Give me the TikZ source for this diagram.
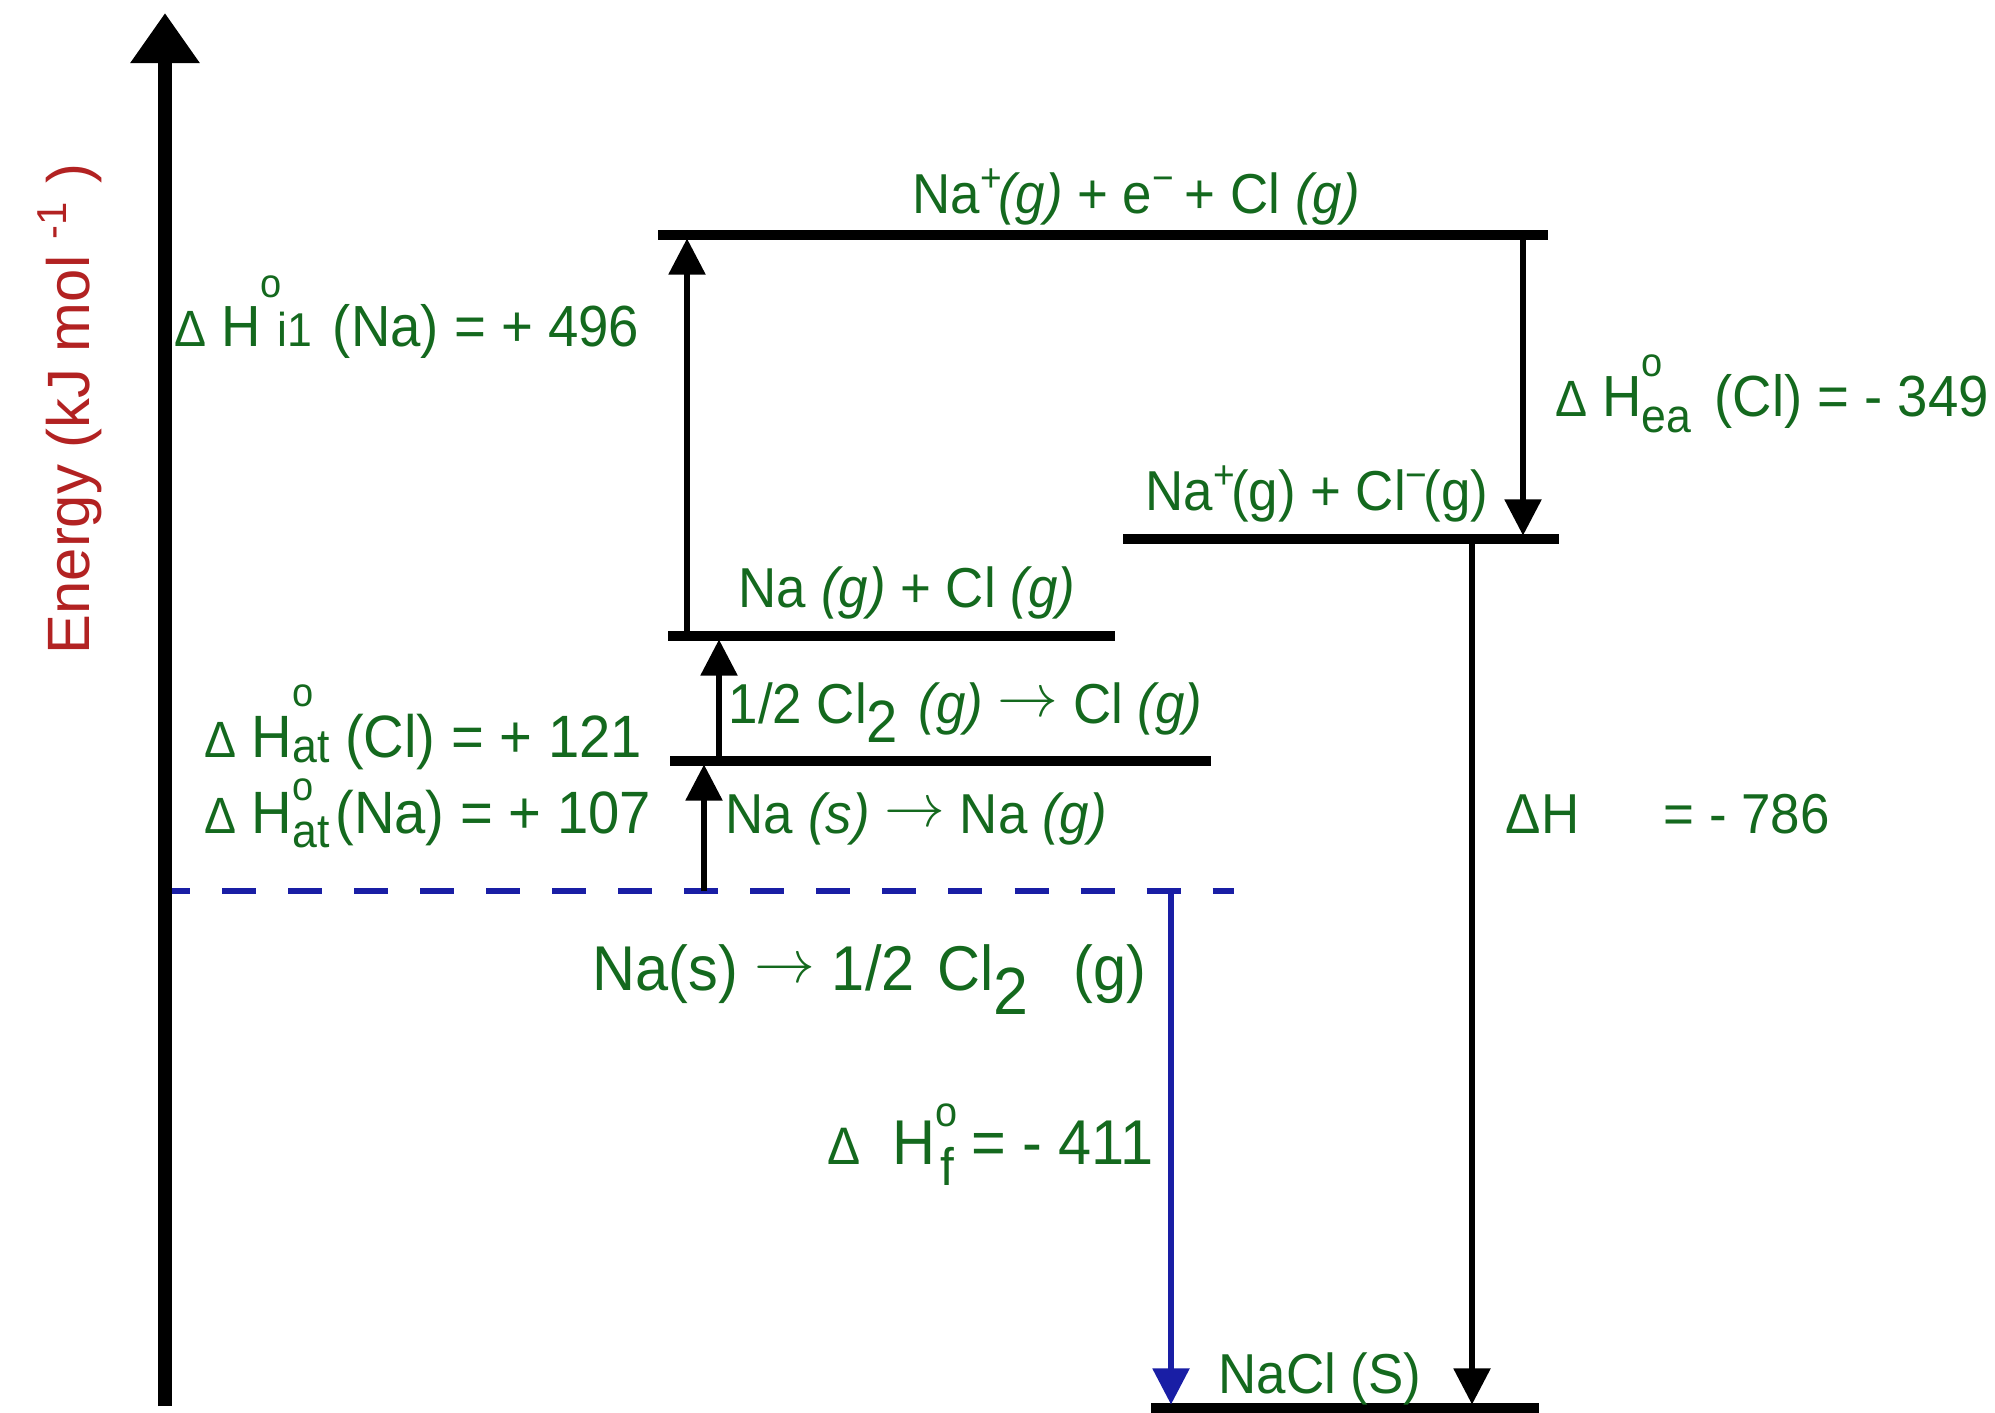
\documentclass[tikz,border=0pt]{standalone}
\usepackage{fontspec}
\setmainfont[FakeStretch=0.94]{Liberation Sans}
\newfontfamily\axisfont{Liberation Sans}
\usetikzlibrary{arrows.meta}
\definecolor{ChemGreen}{RGB}{20,105,30}
\definecolor{AxisRed}{RGB}{178,34,34}
\definecolor{FormBlue}{RGB}{25,30,165}
\newcommand{\fs}[1]{\fontsize{#1}{#1}\selectfont}
% delta H with a raised "o" and a lowered index
\newcommand{\enth}[3]{{\fs{14.5}Δ}\hspace{0.25em}H\rlap{\raisebox{#2}{\fs{11.5}o}}\raisebox{-#3}{\fs{13.5}#1}}
\newcommand{\yields}{\raisebox{0.12em}{$\rightarrow$}}
\tikzset{
  lvl/.style={line width=2.6pt},
  jump/.style={line width=1.5pt, shorten >=1pt, -{Triangle[length=3.6mm,width=3.6mm]}},
  lbl/.style={text=ChemGreen, font=\fs{16}, inner sep=0pt, anchor=base west}
}

\begin{document}
\begin{tikzpicture}[x=0.01cm, y=-0.01cm]
  \useasboundingbox (0,0) rectangle (1995,1413);
  % energy axis
  \coordinate (ax0) at (165,1406);
  \coordinate (ax1) at (165,13);
  \draw[line width=3.7pt, -{Triangle[length=5mm,width=6.6mm]}] (ax0) -- (ax1);
  \node[rotate=90, anchor=base west, text=AxisRed, inner sep=0pt,
    font=\axisfont\fs{17}] (elab) at (89,655) {Energy (kJ mol \textsuperscript{-1} )};

  % levels
  \coordinate (top-l) at (658,235);  \coordinate (top-r) at (1548,235);
  \coordinate (ion-l) at (1123,539); \coordinate (ion-r) at (1559,539);
  \coordinate (atm-l) at (668,636);  \coordinate (atm-r) at (1115,636);
  \coordinate (half-l) at (670,761); \coordinate (half-r) at (1211,761);
  \coordinate (dash-l) at (172,891); \coordinate (dash-r) at (1234,891);
  \coordinate (nacl-l) at (1151,1408); \coordinate (nacl-r) at (1539,1408);
  \draw[lvl] (top-l) -- (top-r);
  \draw[lvl] (ion-l) -- (ion-r);
  \draw[lvl] (atm-l) -- (atm-r);
  \draw[lvl] (half-l) -- (half-r);
  \draw[lvl] (nacl-l) -- (nacl-r);
  \draw[FormBlue, line width=1.7pt, dash pattern=on 3.4mm off 3.2mm, dash phase=1.6mm] (dash-l) -- (dash-r);

  % steps
  \coordinate (na) at (704,891);
  \coordinate (cl) at (719,761);
  \coordinate (i1) at (687,636);
  \coordinate (ea) at (1523,235);
  \coordinate (lat) at (1472,539);
  \coordinate (f) at (1171,891);
  \draw[jump] (na) -- (na |- half-l);
  \draw[jump] (cl) -- (cl |- atm-l);
  \draw[jump] (i1) -- (i1 |- top-l);
  \draw[jump] (ea) -- (ea |- ion-l);
  \draw[jump] (lat) -- (lat |- nacl-l);
  \draw[jump, FormBlue] (f) -- (f |- nacl-l);

  % labels
  \node[lbl] (top-t) at (912,214) {Na\textsuperscript{+}\hspace{-0.1em}\textit{(g)} + e\textsuperscript{−}\hspace{-0.1em} + Cl \textit{(g)}};
  \node[lbl] (ion-t) at (1145,511) {Na\textsuperscript{+}\hspace{-0.1em}(g) + Cl\textsuperscript{−}\hspace{-0.1em}(g)};
  \node[lbl] (atm-t) at (738,607) {Na \textit{(g)} + Cl \textit{(g)}};
  \node[lbl] (cl-t) at (728,723) {1/2 Cl\raisebox{-0.34em}{\fs{17}2}\hspace{0.1em} \textit{(g)} \yields{} Cl \textit{(g)}};
  \node[lbl] (na-t) at (725,833) {Na \textit{(s)} \yields{} Na \textit{(g)}};
  \node[lbl, font=\fs{16.5}] (i1-t) at (174,347) {\enth{\hspace{0.35em}i1}{0.85em}{0em}\hspace{0.1em} (Na) = + 496};
  \node[lbl, font=\fs{16.5}] (ea-t) at (1555,417) {\enth{ea}{0.7em}{0.27em}\hspace{0.4em}(Cl) = - 349};
  \node[lbl] (lat-t) at (1505,833) {ΔH\hspace{1.5em}= - 786};
  \node[lbl, font=\fs{17}] (atcl-t) at (204,757) {\enth{at}{0.85em}{0.1em} (Cl) = + 121};
  \node[lbl, font=\fs{17}] (atna-t) at (204,833) {\enth{at}{0.55em}{0.25em}\hspace{0.1em}(Na) = + 107};
  \node[lbl, font=\fs{18}] (form-t) at (592,990) {Na(s) \yields{} 1/2\hspace{0.1em} Cl\raisebox{-0.38em}{\fs{19}2}\hspace{0.45em} (g)};
  \node[lbl, font=\fs{18}] (f-t) at (827,1164) {{\fs{15}Δ}\hspace{0.5em}H\rlap{\raisebox{0.6em}{\fs{12}o}}\raisebox{-0.34em}{\fs{15}\hspace{0.1em}f} = - 411};
  \node[lbl] (nacl-t) at (1218,1393) {NaCl (S)};
\end{tikzpicture}
\end{document}
